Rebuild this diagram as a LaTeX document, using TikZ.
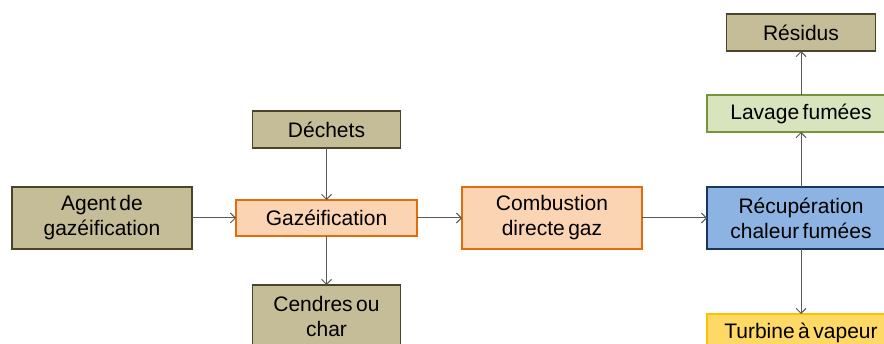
\documentclass[tikz,border=0pt]{standalone}
\usepackage{fontspec}
\setmainfont{Liberation Sans}[WordSpace=0.6]
\usepackage{xcolor}
\definecolor{tanfill}{HTML}{C4BD97}
\definecolor{tanline}{HTML}{4A452A}
\definecolor{orgfill}{HTML}{FBD4B4}
\definecolor{orgline}{HTML}{E46C0A}
\definecolor{bluefill}{HTML}{8DB3E2}
\definecolor{blueline}{HTML}{17375E}
\definecolor{grnfill}{HTML}{D7E4BD}
\definecolor{grnline}{HTML}{77933C}
\definecolor{yelfill}{HTML}{FFD966}
\definecolor{yelline}{HTML}{FFC000}
\definecolor{flowline}{HTML}{595959}
\usetikzlibrary{positioning,arrows.meta}

\begin{document}
\begin{tikzpicture}[x=1pt, y=-1pt,
                   box/.style={draw, line width=1.8pt, inner sep=0pt, outer sep=0pt,
                               minimum width=180pt, minimum height=62pt,
                               font=\fontsize{21}{25}\selectfont, align=center},
                   waste/.style={box, fill=tanfill, draw=tanline},
                   proc/.style={box, fill=orgfill, draw=orgline},
                   heat/.style={box, fill=bluefill, draw=blueline},
                   wash/.style={box, fill=grnfill, draw=grnline},
                   power/.style={box, fill=yelfill, draw=yelline},
                   flow/.style={draw=flowline, line width=1pt, -{Straight Barb[length=5pt,width=10pt]}}]
    \useasboundingbox (0,0) rectangle (884,344);
    \node[waste] (agent) at (102,218) {Agent de\\gazéification};
    \node[proc, minimum width=181pt, minimum height=36pt, right=44pt of agent] (gaz) {Gazéification};
    \node[waste, minimum width=148pt, minimum height=37pt, above=52pt of gaz] (dechets) {Déchets};
    \node[waste, minimum width=148pt, below=49pt of gaz] (cendres) {Cendres ou\\char};
    \node[proc, right=45pt of gaz] (comb) {Combustion\\directe gaz};
    \node[heat, minimum width=188pt, right=65pt of comb] (recup) {Récupération\\chaleur fumées};
    \node[wash, minimum width=188pt, minimum height=37pt, above=55pt of recup] (lavage) {Lavage fumées};
    \node[waste, minimum width=149pt, minimum height=37pt, above=44pt of lavage] (residus) {Résidus};
    \node[power, minimum width=188pt, minimum height=37pt, below=65pt of recup] (turbine) {Turbine à vapeur};
    \draw[flow] (agent) -- (gaz);
    \draw[flow] (dechets) -- (gaz);
    \draw[flow] (gaz) -- (cendres);
    \draw[flow] (gaz) -- (comb);
    \draw[flow] (comb) -- (recup);
    \draw[flow] (recup) -- (lavage);
    \draw[flow] (lavage) -- (residus);
    \draw[flow] (recup) -- (turbine);
\end{tikzpicture}
\end{document}
